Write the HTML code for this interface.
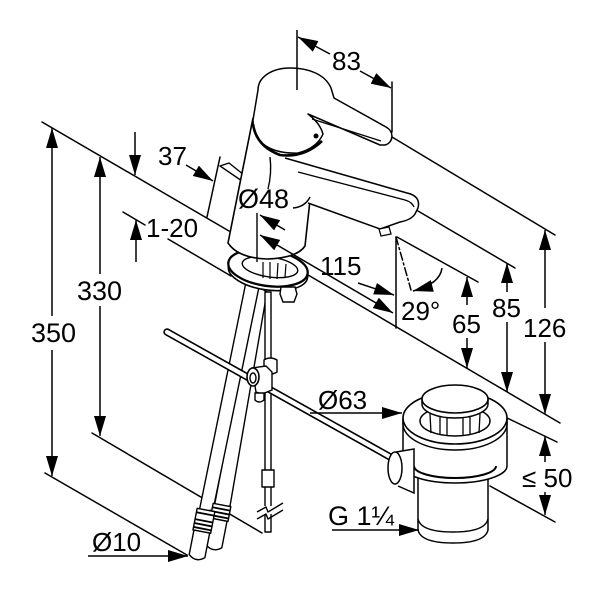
<!DOCTYPE html>
<html><head><meta charset="utf-8"><style>
html,body{margin:0;padding:0;background:#fff;}
svg{display:block;}
text{font-family:"Liberation Sans",Arial,sans-serif;font-size:26px;fill:#000;}
</style></head><body>
<svg width="600" height="600" viewBox="0 0 600 600" xmlns="http://www.w3.org/2000/svg">
<defs>
<marker id="a" markerUnits="userSpaceOnUse" markerWidth="20" markerHeight="12" refX="20" refY="6" orient="auto-start-reverse"><path d="M0,0 L20,6 L0,12 z" fill="#000"/></marker>
</defs>

<!-- extension lines -->
<g fill="none" stroke="#000" stroke-width="1.5" stroke-linecap="round">
 <path d="M42,122 L229,231"/>
 <path d="M123,212 L145,225 M168,239 L231,276"/>
 <path d="M45,473 L187,555"/>
 <path d="M92,433 L262,533"/>
 <path d="M392,137 L555,235"/>
 <path d="M418,211 L515,268"/>
 <path d="M397,237 L478,282"/>
 <path d="M303,272 L560,423"/>
 <path d="M505,417 L557,442"/>
 <path d="M490,486 L555,522"/>
 <path d="M220,157 L207,217"/>
 <path d="M396,237 L396,328"/>
 <path d="M396,237 L411,290" stroke-dasharray="8 3 2 3"/>
 <path d="M392,82 L392,132"/>
</g>

<!-- hoses -->
<g stroke="#000" stroke-width="1.4" fill="#fff" stroke-linejoin="round">
 <path d="M256,285 L267,292 L230,506 L214,508 Z"/>
 <path d="M246,282 L259,287 L213,510 L199,512 Z"/>
 <g transform="translate(222,505) rotate(11)">
  <rect x="-9" y="0" width="18" height="15"/>
  <path d="M-9,4 L9,4 M-9,8 L9,8 M-9,12 L9,12" stroke-width="1.8"/>
  <path d="M-8,15 L-8,42 Q0,49 8,42 L8,15 Z"/>
 </g>
 <g transform="translate(206,510) rotate(11)">
  <rect x="-9" y="0" width="18" height="22"/>
  <path d="M-9,4 L9,4 M-9,11 L9,11 M-9,15 L9,15 M-9,19 L9,19" stroke-width="1.8"/>
  <path d="M-8,22 L-8,47 Q0,54 8,47 L8,22 Z"/>
 </g>
 <!-- lift rod -->
 <rect x="265" y="292" width="6" height="240"/>
 <rect x="262" y="470" width="12" height="17"/>
 <rect x="262" y="506" width="12" height="8" stroke="none"/>
 <path d="M257,512 L266,507 L268,512 L283,503" fill="none"/>
 <path d="M257,519 L266,514 L268,519 L283,510" fill="none"/>
</g>

<!-- side tab -->
<path d="M220,166 L229,163 L244,175 L242,181 Z" fill="#fff" stroke="#000" stroke-width="1.4"/>

<!-- escutcheon ring -->
<g stroke="#000" fill="#fff">
 <ellipse cx="268" cy="272" rx="40" ry="18" transform="rotate(8 268 272)" stroke-width="1.6"/>
 <ellipse cx="268" cy="268" rx="40" ry="18" transform="rotate(8 268 268)" stroke-width="2.3"/>
 <ellipse cx="270" cy="267" rx="28" ry="10" transform="rotate(8 270 267)" stroke-width="1.4"/>
 <path d="M263,262 L263,278 M270,262 L270,279 M278,263 L277,279 M286,264 L285,277" fill="none" stroke-width="1.2"/>
 <path d="M281,287 L295,287 L297,294 L294,302 L283,302 L280,294 Z" stroke-width="1.4"/>
</g>

<!-- body -->
<path d="M253,118 L228,243 Q238,258 267,259 Q297,258 305,246 L312,160 L300,150 Z" fill="#fff"/>
<path d="M253,118 L228,243 Q238,258 267,259 Q297,258 305,246 L310,200" fill="none" stroke="#000" stroke-width="1.6"/>

<!-- spout -->
<path d="M285,158 L407,193 Q421,196 418,208 L415,214 Q411,220 400,222 L380,229 L308,203 Z" fill="#fff"/>
<path d="M285,158 L407,193 Q421,196 418,208 L415,214 Q411,220 400,222 L380,229 L308,203" fill="none" stroke="#000" stroke-width="1.5"/>
<path d="M298,172 L405,200 Q412,202 414,207" fill="none" stroke="#000" stroke-width="1.3"/>
<path d="M379,229 L389,227 L391,234 L381,236 Z" fill="#fff" stroke="#000" stroke-width="1.3"/>

<!-- lever -->
<path d="M258,90 C258,77 272,68 290,68 C308,68 325,74 331,88 L334,98 L386,127 C395,132 393,143 385,145 L380,145 L308,114 Q320,123 323,134 Q317,148 298,153 Q276,154 263,144 Q253,135 253,120 Z" fill="#fff" stroke="#000" stroke-width="1.5" stroke-linejoin="round"/>
<path d="M312,119 L381,141" fill="none" stroke="#000" stroke-width="1.3"/>
<path d="M253,124 Q256,146 280,155 Q304,158 322,141" fill="none" stroke="#000" stroke-width="2.6"/>
<circle cx="316" cy="136" r="2.5" fill="#000"/>
<path d="M297,30 L297,90" stroke="#000" stroke-width="1.5"/>

<!-- Ø48 leaders / centerline -->
<g fill="none" stroke="#000" stroke-width="1.4">
 <path d="M270,157 Q272,173 268,189"/>
 <path d="M293,208 Q305,207 310,197"/>
 <path d="M257,213 L257,262"/>
</g>

<!-- pull rod -->
<path d="M167,332 L392,458" stroke="#000" stroke-width="7.4" stroke-linecap="round"/>
<path d="M167,332 L392,458" stroke="#fff" stroke-width="4.2" stroke-linecap="round"/>

<!-- clamp -->
<g stroke="#000" stroke-width="1.4" fill="#fff">
 <path d="M264,360 Q270,356 277,360 L277,372 Q271,376 264,372 Z"/>
 <path d="M252,368 L266,366 L272,372 L272,390 L262,394 L256,392 Z"/>
 <ellipse cx="253" cy="377" rx="6" ry="9" stroke-width="1.6"/>
 <ellipse cx="253" cy="378" rx="3" ry="5"/>
 <path d="M255,393 L264,393 L264,400 Q259,404 255,400 Z"/>
</g>

<!-- drain -->
<g stroke="#000" fill="#fff" stroke-width="1.5">
 <path d="M418,475 L418,530 Q421,543 453,543 Q485,543 488,530 L488,475 Z"/>
 <path d="M418,519 Q421,532 453,532 Q485,532 488,519" fill="none"/>
 <path d="M403,420 L403,466 A52,17 0 0 0 507,466 L507,420 Z"/>
 <path d="M414,466 A41,12 0 0 0 496,466" fill="none" stroke-width="2"/>
 <path d="M396,452 L414,449 L414,493 L398,486"/>
 <ellipse cx="395" cy="468" rx="7" ry="16"/>
 <path d="M403,418 L403,424 A52,26 0 0 0 507,424 L507,418"/>
 <ellipse cx="455" cy="418" rx="52" ry="26" stroke-width="1.6"/>
 <ellipse cx="455" cy="421" rx="35" ry="15"/>
 <path d="M430,414 L431,433 M440,416 L440,435 M447,417 L447,436 M463,417 L463,436 M470,416 L470,435 M480,414 L479,433" fill="none" stroke-width="1.3"/>
 <path d="M422,399 L422,404 A33,14 0 0 0 488,404 L488,399"/>
 <ellipse cx="455" cy="399" rx="33" ry="14" stroke-width="1.6"/>
</g>

<!-- dimension lines with arrows -->
<g fill="none" stroke="#000" stroke-width="1.5" marker-end="url(#a)">
 <path d="M52,316 L52,128"/>
 <path d="M52,350 L52,476"/>
 <path d="M100,274 L100,157"/>
 <path d="M100,306 L100,436"/>
 <path d="M135,132 L135,175"/>
 <path d="M186,165 L213,181"/>
 <path d="M136,262 L136,220"/>
 <path d="M330,54 L298,37"/>
 <path d="M360,71 L391,88"/>
 <path d="M285,230 L260,215"/>
 <path d="M260,235 L393,313" marker-start="url(#a)"/>
 <path d="M358,283 L394,295"/>
 <path d="M442,268 Q440,284 413,291"/>
 <path d="M467,305 L467,277"/>
 <path d="M467,338 L467,368"/>
 <path d="M507,292 L507,263"/>
 <path d="M507,322 L507,392"/>
 <path d="M545,308 L545,230"/>
 <path d="M545,342 L545,414"/>
 <path d="M545,462 L545,436"/>
 <path d="M545,492 L545,515"/>
 <path d="M310,413 L402,413"/>
 <path d="M332,530 L419,530"/>
 <path d="M88,556 L188,556"/>
</g>

<!-- labels -->
<text x="31" y="342" style="font-size:27px">350</text>
<text x="77" y="300" style="font-size:27px">330</text>
<text x="158" y="165">37</text>
<text x="146" y="237">1-20</text>
<text x="332" y="70">83</text>
<text x="238" y="208" style="font-size:27px">Ø48</text>
<text x="320" y="275">115</text>
<text x="401" y="320">29°</text>
<text x="452" y="333">65</text>
<text x="492" y="317">85</text>
<text x="523" y="337">126</text>
<text x="522" y="487">≤ 50</text>
<text x="318" y="409">Ø63</text>
<text x="328" y="525" style="font-size:27px">G 1¼</text>
<text x="92" y="551">Ø10</text>
</svg>
</body></html>
